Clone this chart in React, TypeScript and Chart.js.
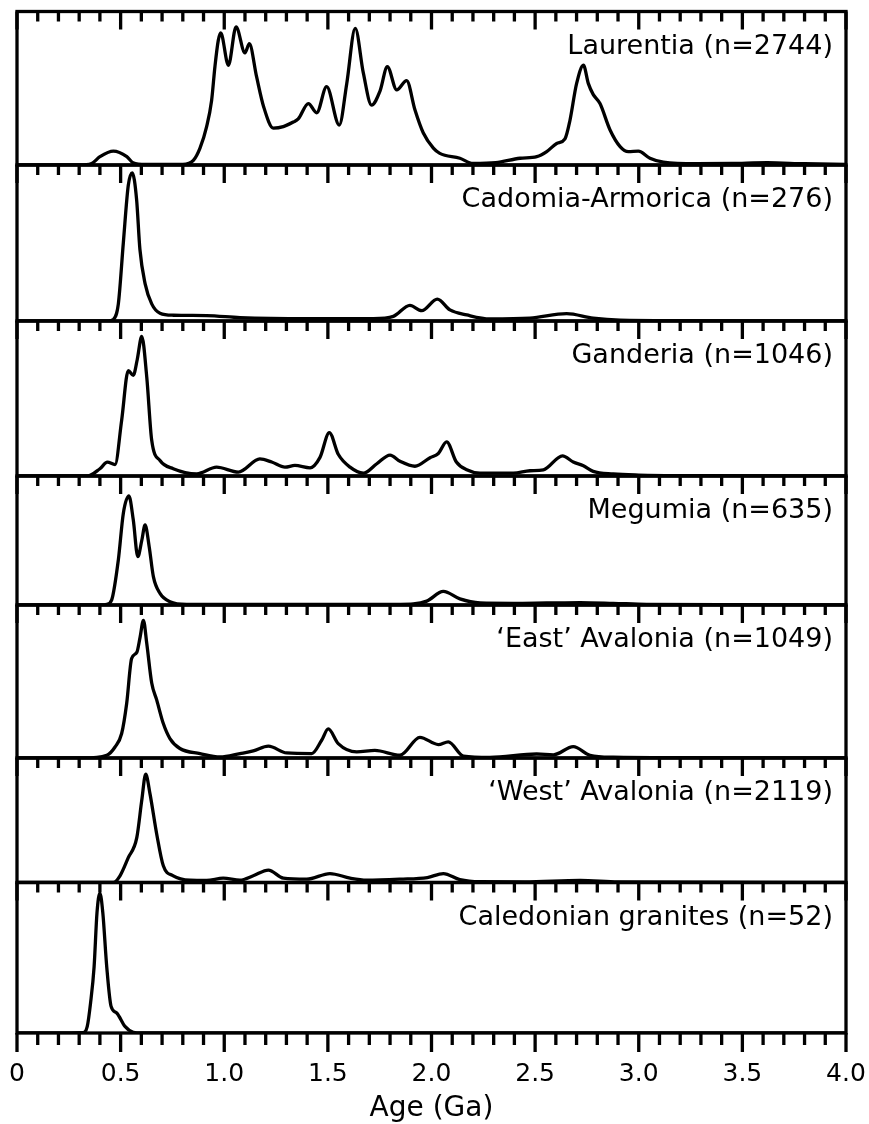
import React, { useEffect, useRef } from 'react';
import { Chart, registerables } from 'chart.js';

Chart.register(...registerables);

// ---------- data (age in Ga, relative density) ----------
const PANEL_LABELS = [
  'Laurentia (n=2744)',
  'Cadomia-Armorica (n=276)',
  'Ganderia (n=1046)',
  'Megumia (n=635)',
  '\u2018East\u2019 Avalonia (n=1049)',
  '\u2018West\u2019 Avalonia (n=2119)',
  'Caledonian granites (n=52)',
];

const LAURENTIA_AGE = [0, 0.30, 0.36, 0.40, 0.465, 0.53, 0.56, 0.62, 0.80, 0.851, 0.883, 0.915, 0.939, 0.955, 0.971, 0.983, 1.02, 1.057, 1.10, 1.121, 1.156, 1.19, 1.237, 1.285, 1.333, 1.357, 1.406, 1.446, 1.494, 1.555, 1.591, 1.632, 1.671, 1.711, 1.751, 1.787, 1.832, 1.880, 1.920, 1.96, 2.009, 2.04, 2.137, 2.20, 2.31, 2.427, 2.508, 2.556, 2.604, 2.644, 2.668, 2.70, 2.733, 2.757, 2.78, 2.813, 2.861, 2.91, 2.95, 2.998, 3.054, 3.119, 3.28, 3.45, 3.62, 3.80, 4.0];
const LAURENTIA_DENS = [0, 0, 0.01, 0.054, 0.09, 0.054, 0.015, 0.004, 0.004, 0.03, 0.11, 0.25, 0.42, 0.64, 0.81, 0.86, 0.65, 0.90, 0.73, 0.79, 0.575, 0.38, 0.24, 0.25, 0.28, 0.30, 0.40, 0.34, 0.51, 0.26, 0.53, 0.89, 0.60, 0.39, 0.48, 0.64, 0.49, 0.55, 0.36, 0.21, 0.11, 0.076, 0.044, 0.01, 0.015, 0.044, 0.054, 0.087, 0.14, 0.17, 0.29, 0.53, 0.65, 0.53, 0.46, 0.40, 0.23, 0.12, 0.087, 0.09, 0.044, 0.018, 0.008, 0.01, 0.015, 0.008, 0.004];

const CADOMIA_AGE = [0, 0.44, 0.465, 0.489, 0.513, 0.537, 0.556, 0.577, 0.593, 0.618, 0.65, 0.69, 0.754, 0.915, 1.076, 1.40, 1.72, 1.816, 1.896, 1.953, 2.028, 2.089, 2.17, 2.282, 2.475, 2.652, 2.78, 2.91, 3.2, 4.0];
const CADOMIA_DENS = [0, 0, 0.01, 0.11, 0.50, 0.87, 0.95, 0.78, 0.46, 0.24, 0.11, 0.05, 0.037, 0.035, 0.022, 0.015, 0.015, 0.03, 0.10, 0.066, 0.14, 0.071, 0.039, 0.013, 0.018, 0.047, 0.018, 0.005, 0.002, 0];

const GANDERIA_AGE = [0, 0.34, 0.40, 0.436, 0.473, 0.505, 0.537, 0.561, 0.58, 0.602, 0.626, 0.65, 0.69, 0.754, 0.867, 0.963, 1.068, 1.172, 1.229, 1.293, 1.341, 1.414, 1.462, 1.507, 1.55, 1.607, 1.671, 1.736, 1.80, 1.848, 1.92, 1.993, 2.033, 2.073, 2.12, 2.17, 2.234, 2.395, 2.475, 2.54, 2.632, 2.684, 2.733, 2.78, 2.877, 3.0, 3.3, 4.0];
const GANDERIA_DENS = [0, 0, 0.047, 0.089, 0.074, 0.36, 0.68, 0.65, 0.75, 0.90, 0.64, 0.23, 0.10, 0.047, 0.014, 0.057, 0.025, 0.11, 0.09, 0.057, 0.068, 0.053, 0.12, 0.28, 0.14, 0.057, 0.018, 0.079, 0.135, 0.095, 0.063, 0.118, 0.145, 0.22, 0.09, 0.04, 0.018, 0.018, 0.034, 0.04, 0.13, 0.09, 0.066, 0.03, 0.013, 0.006, 0.002, 0];

const MEGUMIA_AGE = [0, 0.41, 0.433, 0.457, 0.489, 0.513, 0.54, 0.561, 0.583, 0.602, 0.618, 0.638, 0.658, 0.69, 0.738, 0.819, 1.2, 1.848, 1.912, 1.977, 2.057, 2.137, 2.234, 2.395, 2.556, 2.717, 2.877, 3.038, 3.5, 4.0];
const MEGUMIA_DENS = [0, 0, 0.005, 0.04, 0.35, 0.71, 0.845, 0.66, 0.375, 0.50, 0.62, 0.45, 0.22, 0.09, 0.026, 0.005, 0.004, 0.005, 0.008, 0.03, 0.105, 0.047, 0.016, 0.013, 0.016, 0.019, 0.013, 0.005, 0.002, 0];

const EAST_AVALONIA_AGE = [0, 0.32, 0.433, 0.473, 0.505, 0.529, 0.553, 0.578, 0.594, 0.61, 0.626, 0.65, 0.674, 0.706, 0.738, 0.786, 0.883, 0.98, 1.076, 1.14, 1.213, 1.301, 1.422, 1.47, 1.502, 1.55, 1.639, 1.727, 1.848, 1.944, 2.033, 2.081, 2.154, 2.282, 2.507, 2.588, 2.684, 2.765, 2.877, 3.2, 4.0];
const EAST_AVALONIA_DENS = [0, 0, 0.018, 0.072, 0.16, 0.355, 0.65, 0.69, 0.79, 0.90, 0.75, 0.49, 0.38, 0.225, 0.127, 0.062, 0.029, 0.007, 0.029, 0.046, 0.077, 0.033, 0.029, 0.116, 0.19, 0.094, 0.04, 0.05, 0.018, 0.135, 0.088, 0.106, 0.013, 0.004, 0.026, 0.021, 0.074, 0.018, 0.005, 0.002, 0];

const WEST_AVALONIA_AGE = [0, 0.465, 0.497, 0.537, 0.578, 0.602, 0.621, 0.642, 0.674, 0.706, 0.754, 0.835, 0.915, 0.995, 1.076, 1.14, 1.213, 1.285, 1.398, 1.51, 1.607, 1.687, 1.848, 1.98, 2.057, 2.137, 2.234, 2.45, 2.717, 2.9, 3.3, 4.0];
const WEST_AVALONIA_DENS = [0, 0, 0.054, 0.20, 0.36, 0.66, 0.87, 0.71, 0.39, 0.134, 0.054, 0.019, 0.017, 0.035, 0.019, 0.054, 0.10, 0.035, 0.027, 0.072, 0.035, 0.019, 0.027, 0.04, 0.072, 0.023, 0.006, 0.005, 0.016, 0.004, 0.002, 0];

const CALEDONIAN_AGE = [0, 0.32, 0.339, 0.355, 0.372, 0.386, 0.40, 0.414, 0.433, 0.454, 0.481, 0.521, 0.561, 0.60, 4.0];
const CALEDONIAN_DENS = [0, 0.003, 0.044, 0.20, 0.44, 0.80, 0.93, 0.80, 0.44, 0.177, 0.133, 0.044, 0.005, 0, 0];

const SERIES_AGES = [LAURENTIA_AGE, CADOMIA_AGE, GANDERIA_AGE, MEGUMIA_AGE, EAST_AVALONIA_AGE, WEST_AVALONIA_AGE, CALEDONIAN_AGE];
const SERIES_DENS = [LAURENTIA_DENS, CADOMIA_DENS, GANDERIA_DENS, MEGUMIA_DENS, EAST_AVALONIA_DENS, WEST_AVALONIA_DENS, CALEDONIAN_DENS];

const MAJOR_TICKS = [0, 0.5, 1.0, 1.5, 2.0, 2.5, 3.0, 3.5, 4.0];
const TICK_LABELS = ['0', '0.5', '1.0', '1.5', '2.0', '2.5', '3.0', '3.5', '4.0'];
const MINOR_STEP = 0.1;
const AXIS_TITLE = 'Age (Ga)';

// ---------- layout constants ----------
const WIDTH = 869;
const HEIGHT = 1124;
const PANEL_HEIGHTS = [153.5, 156, 155, 129, 153, 124.5, 150.5];
const FONT = '"DejaVu Sans", "Liberation Sans", Arial, sans-serif';
const LINE_W = 3.3;

const ALL_TICKS: number[] = [];
for (let i = 0; i <= Math.round(4 / MINOR_STEP); i++) ALL_TICKS.push(Math.round(i * MINOR_STEP * 10) / 10);

const isMajor = (v: number) => MAJOR_TICKS.some((m) => Math.abs(m - v) < 1e-6);
const labelFor = (v: number) => {
  const idx = MAJOR_TICKS.findIndex((m) => Math.abs(m - v) < 1e-6);
  return idx >= 0 ? TICK_LABELS[idx] : '';
};

const panelPlugin = {
  id: 'panelFrames',
  afterDatasetsDraw(chart: any) {
    const { ctx, chartArea } = chart;
    const xs = chart.scales.x;
    ctx.save();
    ctx.strokeStyle = '#000';
    ctx.fillStyle = '#000';
    ctx.lineWidth = LINE_W;
    ctx.lineCap = 'butt';
    PANEL_LABELS.forEach((label: string, i: number) => {
      const ys = chart.scales['y' + i];
      ctx.strokeRect(chartArea.left, ys.top, chartArea.right - chartArea.left, ys.bottom - ys.top);
      ctx.beginPath();
      ALL_TICKS.forEach((v) => {
        const px = xs.getPixelForValue(v);
        const len = isMajor(v) ? 18 : 10;
        ctx.moveTo(px, ys.top);
        ctx.lineTo(px, ys.top + len);
      });
      ctx.stroke();
      ctx.font = '27px ' + FONT;
      ctx.textAlign = 'right';
      ctx.textBaseline = 'alphabetic';
      ctx.fillText(label, chartArea.right - 13, ys.top + 42);
    });
    const yb = chartArea.bottom;
    ctx.beginPath();
    ALL_TICKS.forEach((v) => {
      const px = xs.getPixelForValue(v);
      const len = isMajor(v) ? 19 : 12;
      ctx.moveTo(px, yb);
      ctx.lineTo(px, yb + len);
    });
    ctx.stroke();
    ctx.restore();
  },
};

export default function App() {
  const canvasRef = useRef<HTMLCanvasElement | null>(null);

  useEffect(() => {
    if (!canvasRef.current) return;
    const datasets = SERIES_AGES.map((ages, i) => ({
      label: PANEL_LABELS[i],
      data: ages.map((a, j) => ({ x: a, y: SERIES_DENS[i][j] })),
      yAxisID: 'y' + i,
      borderColor: '#000',
      borderWidth: LINE_W,
      pointRadius: 0,
      fill: false,
      cubicInterpolationMode: 'monotone' as const,
      borderJoinStyle: 'round' as const,
      borderCapStyle: 'round' as const,
    }));

    const scales: any = {
      x: {
        type: 'linear',
        position: 'bottom',
        min: 0,
        max: 4,
        afterBuildTicks: (s: any) => {
          s.ticks = ALL_TICKS.map((v) => ({ value: v }));
        },
        afterFit: (s: any) => {
          s.height = 91;
          s.paddingLeft = 8;
          s.paddingRight = 20;
        },
        grid: {
          display: true,
          drawOnChartArea: false,
          drawTicks: true,
          tickLength: 19,
          tickColor: 'rgba(0,0,0,0)',
        },
        border: { display: false },
        ticks: {
          autoSkip: false,
          maxRotation: 0,
          minRotation: 0,
          padding: 7,
          color: '#000',
          font: { family: FONT, size: 25 },
          callback: (v: any) => labelFor(Number(v)),
        },
        title: {
          display: true,
          text: AXIS_TITLE,
          color: '#000',
          font: { family: FONT, size: 28 },
          padding: { top: 0, bottom: -2 },
        },
      },
    };
    PANEL_HEIGHTS.forEach((h, i) => {
      scales['y' + i] = {
        type: 'linear',
        position: 'left',
        stack: 'panels',
        stackWeight: h,
        weight: 20 - i,
        min: 0,
        max: 1,
        display: false,
      };
    });

    const chart = new Chart(canvasRef.current, {
      type: 'line',
      data: { datasets },
      options: {
        responsive: false,
        animation: false,
        devicePixelRatio: 1,
        layout: { padding: { left: 17, right: 23, top: 11.5, bottom: 0 } },
        scales,
        plugins: {
          legend: { display: false },
          tooltip: { enabled: false },
        },
      } as any,
      plugins: [panelPlugin],
    });
    return () => chart.destroy();
  }, []);

  return (
    <div style={{ position: 'fixed', left: 0, top: 0, width: WIDTH, height: HEIGHT, background: '#fff' }}>
      <canvas ref={canvasRef} width={WIDTH} height={HEIGHT} style={{ display: 'block' }} />
    </div>
  );
}
